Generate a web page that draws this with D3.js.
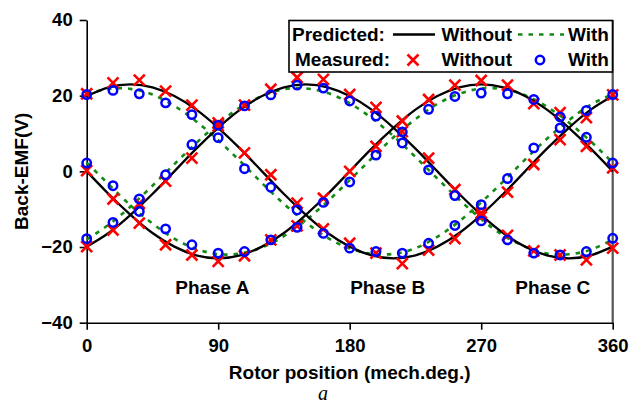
<!doctype html>
<html lang="en-US">
<head>
<meta charset="utf-8">
<title>Back-EMF</title>
<script src="https://cdnjs.cloudflare.com/ajax/libs/d3/7.8.5/d3.min.js"></script>
<style>
  html, body {
    margin: 0px;
    padding: 0px;
    background: #fff;
  }
  svg {
    display: block;
  }
  text {
    font-family: "Liberation Sans", Arial, sans-serif;
    font-weight: bold;
    fill: #000;
  }
</style>
</head>
<body>
<svg id="chart" width="632" height="405"></svg>
<script>
// rotor position of the predicted curves (deg)
var predAngle = [0, 15, 30, 45, 60, 75, 90, 105, 120, 135, 150, 165, 180,
  195, 210, 225, 240, 255, 270, 285, 300, 315, 330, 345, 360];

// predicted, without
var predA0 = [0, -6.0, -11.5, -16.3, -19.9, -22.2, -23.0, -22.2, -19.9, -16.3, -11.5, -6.0, 0,
  6.0, 11.5, 16.3, 19.9, 22.2, 23.0, 22.2, 19.9, 16.3, 11.5, 6.0, 0];
var predB0 = [19.9, 22.2, 23.0, 22.2, 19.9, 16.3, 11.5, 6.0, 0, -6.0, -11.5, -16.3, -19.9,
  -22.2, -23.0, -22.2, -19.9, -16.3, -11.5, -6.0, 0, 6.0, 11.5, 16.3, 19.9];
var predC0 = [-19.9, -16.3, -11.5, -6.0, 0, 6.0, 11.5, 16.3, 19.9, 22.2, 23.0, 22.2, 19.9,
  16.3, 11.5, 6.0, 0, -6.0, -11.5, -16.3, -19.9, -22.2, -23.0, -22.2, -19.9];

// predicted, with
var predA1 = [2.3, -3.4, -9.0, -13.8, -17.8, -20.5, -21.9, -21.7, -20.1, -17.1, -12.9, -7.9, -2.3,
  3.4, 9.0, 13.8, 17.8, 20.5, 21.9, 21.7, 20.1, 17.1, 12.9, 7.9, 2.3];
var predB1 = [20.4, 21.8, 21.8, 20.3, 17.3, 13.2, 8.2, 2.7, -3.1, -8.6, -13.5, -17.6, -20.4,
  -21.8, -21.8, -20.3, -17.3, -13.2, -8.2, -2.7, 3.1, 8.6, 13.5, 17.6, 20.4];
var predC1 = [-18.0, -14.1, -9.3, -3.8, 1.9, 7.5, 12.6, 16.9, 19.9, 21.7, 21.9, 20.7, 18.0,
  14.1, 9.3, 3.8, -1.9, -7.5, -12.6, -16.9, -19.9, -21.7, -21.9, -20.7, -18.0];

// measured points (deg)
var measAngle = [0, 18, 36, 54, 72, 90, 108, 126, 144, 162, 180,
  198, 216, 234, 252, 270, 288, 306, 324, 342, 360];

// measured, without
var measA0 = [0.2, -7.3, -13.7, -19.4, -22.1, -23.8, -22.3, -18.1, -14.4, -7.1, 0,
  6.6, 13.3, 19.0, 22.8, 24.0, 22.8, 17.9, 15.5, 6.6, 0.9];
var measB0 = [20.5, 23.4, 24.1, 21.2, 17.5, 12.8, 4.9, -0.9, -8.4, -15.2, -19.0,
  -21.6, -24.4, -20.8, -17.8, -11.0, -5.5, 1.8, 8.4, 14.2, 20.2];
var measC0 = [-19.9, -15.5, -8.5, -2.6, 3.5, 12.0, 17.5, 21.7, 24.8, 24.3, 20.3,
  16.9, 10.5, 3.5, -4.8, -12.0, -16.9, -21.0, -22.1, -23.4, -20.3];

// measured, with
var measA1 = [2.2, -3.8, -10.6, -15.2, -19.4, -21.6, -21.2, -18.1, -14.8, -8.2, -2.8,
  4.3, 10.4, 16.4, 19.8, 20.7, 20.5, 19.0, 14.4, 9.0, 2.2];
var measB1 = [20.3, 21.4, 20.5, 18.1, 15.0, 8.9, 0.7, -4.2, -10.2, -16.4, -20.3,
  -21.2, -21.6, -19.0, -14.3, -8.8, -1.9, 6.2, 11.5, 16.1, 20.3];
var measC1 = [-17.8, -13.5, -7.3, -0.9, 7.1, 12.2, 17.3, 20.2, 22.8, 22.0, 18.6,
  14.6, 7.5, 0.4, -6.4, -13.1, -18.1, -21.6, -22.1, -21.2, -17.7];

var xTicks = [0, 90, 180, 270, 360];
var yTicks = [-40, -20, 0, 20, 40];
var phaseNames = ["Phase A", "Phase B", "Phase C"];

var svg = d3.select("#chart");
var plotL = 86.7, plotR = 612.7, plotT = 20, plotB = 322.7;

var x = d3.scaleLinear().domain([0, 360]).range([plotL, plotR]);
var y = d3.scaleLinear().domain([-40, 40]).range([plotB, plotT]);

// right frame
svg.append("line")
  .attr("x1", plotR).attr("x2", plotR)
  .attr("y1", plotT).attr("y2", plotB)
  .attr("stroke", "#555").attr("stroke-width", 2.2);

// axes
var xAxis = svg.append("g")
  .attr("transform", "translate(0," + plotB + ")")
  .call(d3.axisBottom(x).tickValues(xTicks).tickSize(7).tickSizeOuter(0).tickPadding(9));
var yAxis = svg.append("g")
  .attr("transform", "translate(" + plotL + ",0)")
  .call(d3.axisLeft(y).tickValues(yTicks).tickSize(7).tickSizeOuter(0).tickPadding(7)
    .tickFormat(function(d) { return d < 0 ? "\u2212" + Math.abs(d) : d; }));

[xAxis, yAxis].forEach(function(g) {
  g.select(".domain").attr("stroke", "#000").attr("stroke-width", 1.6);
  g.selectAll(".tick line").attr("stroke", "#000").attr("stroke-width", 1.6);
  g.selectAll(".tick text")
    .attr("font-family", "Liberation Sans, Arial, sans-serif")
    .attr("font-weight", "bold")
    .attr("font-size", "18.5px")
    .attr("fill", "#000");
});

// predicted lines
var line = d3.line()
  .x(function(d) { return x(d[0]); })
  .y(function(d) { return y(d[1]); })
  .curve(d3.curveNatural);

function pairs(xs, ys) {
  return xs.map(function(v, i) { return [v, ys[i]]; });
}

[predA1, predB1, predC1].forEach(function(s) {
  svg.append("path")
    .attr("d", line(pairs(predAngle, s)))
    .attr("fill", "none")
    .attr("stroke", "#138a13")
    .attr("stroke-width", 2.6)
    .attr("stroke-dasharray", "4.5,6");
});
[predA0, predB0, predC0].forEach(function(s) {
  svg.append("path")
    .attr("d", line(pairs(predAngle, s)))
    .attr("fill", "none")
    .attr("stroke", "#000")
    .attr("stroke-width", 2.3);
});

// measured markers
var cross = "M-5.5,-5.5L5.5,5.5M-5.5,5.5L5.5,-5.5";

[measA0, measB0, measC0].forEach(function(s) {
  svg.append("g").selectAll("path")
    .data(pairs(measAngle, s))
    .join("path")
    .attr("d", cross)
    .attr("transform", function(d) { return "translate(" + x(d[0]) + "," + y(d[1]) + ")"; })
    .attr("fill", "none")
    .attr("stroke", "#ff0000")
    .attr("stroke-width", 2.6);
});
[measA1, measB1, measC1].forEach(function(s) {
  svg.append("g").selectAll("circle")
    .data(pairs(measAngle, s))
    .join("circle")
    .attr("cx", function(d) { return x(d[0]); })
    .attr("cy", function(d) { return y(d[1]); })
    .attr("r", 4.2)
    .attr("fill", "none")
    .attr("stroke", "#0000ff")
    .attr("stroke-width", 2.5);
});

// phase labels
var phaseAt = [86, 206, 319];
svg.selectAll(".phase")
  .data(phaseNames)
  .join("text")
  .attr("class", "phase")
  .attr("x", function(d, i) { return x(phaseAt[i]); })
  .attr("y", y(-32.3))
  .attr("text-anchor", "middle")
  .attr("font-size", "19px")
  .text(function(d) { return d; });

// legend
var lg = svg.append("g");
lg.append("rect")
  .attr("x", 289).attr("y", 20.5)
  .attr("width", 323.5).attr("height", 51.5)
  .attr("fill", "#fff").attr("stroke", "#000").attr("stroke-width", 1.6);
lg.append("text").attr("x", 292).attr("y", 41).attr("font-size", "19px").text("Predicted:");
lg.append("text").attr("x", 295).attr("y", 66).attr("font-size", "19px").text("Measured:");
lg.append("line").attr("x1", 393).attr("x2", 435).attr("y1", 34.5).attr("y2", 34.5)
  .attr("stroke", "#000").attr("stroke-width", 2.3);
lg.append("text").attr("x", 441.5).attr("y", 41).attr("font-size", "19px").text("Without");
lg.append("line").attr("x1", 518).attr("x2", 564).attr("y1", 34.5).attr("y2", 34.5)
  .attr("stroke", "#138a13").attr("stroke-width", 2.6).attr("stroke-dasharray", "4.5,6");
lg.append("text").attr("x", 568).attr("y", 41).attr("font-size", "19px").text("With");
lg.append("path").attr("d", cross).attr("transform", "translate(413,60)")
  .attr("fill", "none").attr("stroke", "#ff0000").attr("stroke-width", 2.6);
lg.append("text").attr("x", 441.5).attr("y", 66).attr("font-size", "19px").text("Without");
lg.append("circle").attr("cx", 540).attr("cy", 60).attr("r", 4.2)
  .attr("fill", "none").attr("stroke", "#0000ff").attr("stroke-width", 2.5);
lg.append("text").attr("x", 568).attr("y", 66).attr("font-size", "19px").text("With");

// axis titles
svg.append("text")
  .attr("x", (plotL + plotR) / 2).attr("y", 379)
  .attr("text-anchor", "middle")
  .attr("font-size", "19px")
  .text("Rotor position (mech.deg.)");
svg.append("text")
  .attr("transform", "translate(28," + y(0) + ") rotate(-90)")
  .attr("text-anchor", "middle")
  .attr("font-size", "19px")
  .text("Back-EMF(V)");
svg.append("text")
  .attr("x", 323).attr("y", 400)
  .attr("text-anchor", "middle")
  .style("font-family", "'Liberation Serif', 'DejaVu Serif', serif")
  .style("font-style", "italic")
  .style("font-weight", "normal")
  .attr("font-size", "20px")
  .text("a");
</script>
</body>
</html>
